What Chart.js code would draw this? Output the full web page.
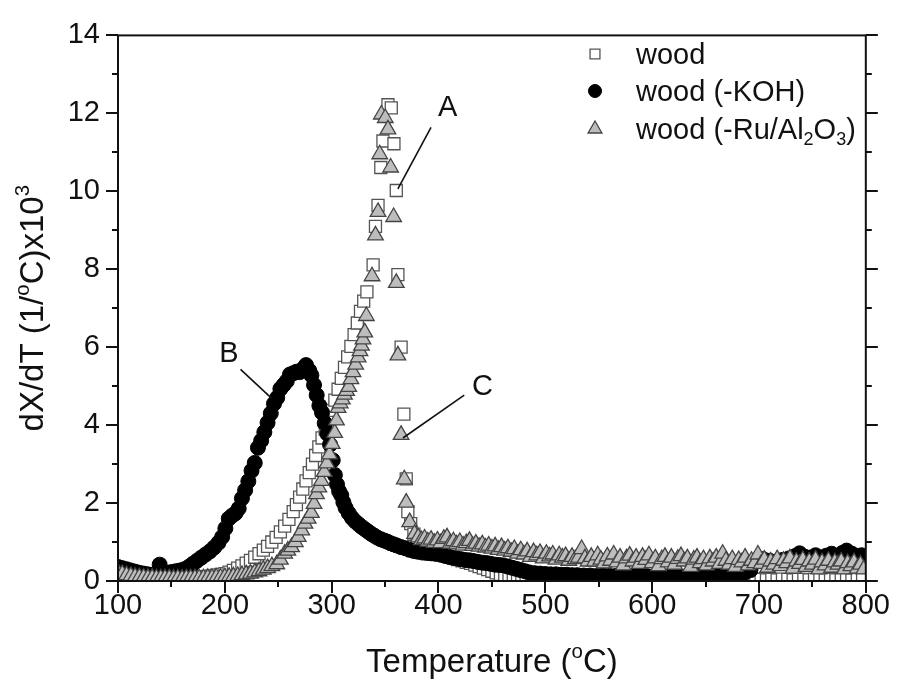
<!DOCTYPE html>
<html><head><meta charset="utf-8">
<script src="https://cdn.jsdelivr.net/npm/chart.js@4.4.1/dist/chart.umd.min.js"></script>
<style>html,body{margin:0;padding:0;background:#fff}canvas{display:block}</style>
</head><body>
<canvas id="c" width="898" height="687"></canvas>
<script>
// ---------- data ----------
const woodT = [100,104,108,112,116,120,124,128,132,136,140,144,148,152,156,160,164,168,172,176,180,184,188,192,196,
200,204,208,212,216,220,224,228,232,236,240,244,248,252,256,260,264,267,270,273,276,279,282,285,288,291,294,297,
300,303,306,309,312,315,318,321,324,327,330,333,338.8,341,343.4,346,348,352.7,355.8,358.3,360.5,362,365,367.6,369.8,
371.3,374,377,380,383,386,390,394,398,402,406,410,414,418,422,426,430,434,438,442,446,450,454,458,462,466,470,474,478,
482,487,492,497,502,507,512,517,522,527,532,537,542,547,552,557,562,567,572,577,582,587,592,597,602,607,612,617,622,627,
632,637,642,647,652,657,662,667,672,677,682,687,692,697,702,707,712,717,722,727,732,737,742,747,752,757,762,767,772,777,
782,787,792,797];
const woodV = [0.25,0.21,0.17,0.14,0.12,0.11,0.1,0.09,0.09,0.08,0.09,0.08,0.08,0.09,0.08,0.09,0.08,0.09,0.1,0.1,0.11,0.12,0.13,0.15,0.17,
0.19,0.23,0.27,0.33,0.39,0.46,0.53,0.61,0.7,0.79,0.89,1.0,1.12,1.26,1.41,1.58,1.78,1.96,2.15,2.36,2.57,2.78,3.0,3.22,3.44,3.67,3.9,4.14,
4.38,4.64,4.92,5.2,5.48,5.75,6.02,6.32,6.62,6.92,7.18,7.42,8.11,9.1,9.64,10.61,11.29,12.22,12.14,11.22,10.02,7.86,6.0,4.28,2.62,
1.78,1.47,1.2,0.95,0.86,0.81,0.77,0.73,0.7,0.67,0.64,0.61,0.58,0.55,0.52,0.48,0.45,0.41,0.37,0.33,0.29,0.25,0.21,0.17,0.14,0.11,0.09,0.07,0.06,
0.05,0.04,0.05,0.04,0.04,0.05,0.03,0.04,0.04,0.03,0.04,0.05,0.03,0.04,0.03,0.04,0.04,0.03,0.05,0.04,0.03,0.04,0.04,0.03,0.04,0.03,
0.05,0.04,0.03,0.04,0.04,0.03,0.04,0.05,0.03,0.04,0.03,0.04,0.04,0.03,0.05,0.04,0.03,0.04,0.04,0.03,0.04,0.03,0.05,0.04,0.03,0.04,
0.04,0.03,0.04,0.05,0.03,0.04,0.03,0.04,0.04,0.03,0.05,0.04];

const kohT = [100,104,108,112,116,120,124,128,132,136,139,142,146,150,154,158,162,166,170,174,178,182,186,190,194,197.5,200.5,203.7,
207,210,213,216,219,222,225,228,231,234,237,240,243,246,249,252,255,258,261,264,267,270,273,276,279,281,283.5,286,288.5,291,293.5,
296,298.5,301,303,305,307,309,311,313,316,319,322,325,328,331,334,337,340,343,346,349,352,355,358,361,365,369,373,377,381,385,389,
393,397,401,405,409,413,417,421,425,429,433,437,441,445,449,453,457,461,465,469,473,477,481,485,490,495,500,505,510,515,520,525,530,
536,542,548,554,560,566,572,578,584,590,596,602,608,614,620,626,632,638,644,650,656,662,668,674,680,686,692,698,704,710,716,722,728,
734,738,743,748,753,758,763,768,773,778,782,787,792,796,800];
const kohV = [0.36,0.33,0.3,0.27,0.24,0.21,0.19,0.17,0.16,0.15,0.42,0.17,0.2,0.23,0.25,0.27,0.3,0.36,0.44,0.52,0.6,0.68,0.76,0.86,0.98,1.13,1.35,1.6,
1.68,1.74,1.86,2.12,2.33,2.56,2.83,3.03,3.42,3.6,3.82,4.06,4.3,4.55,4.7,4.93,5.03,5.13,5.3,5.33,5.37,5.36,5.44,5.54,5.4,5.28,5.03,4.77,4.5,4.32,4.05,
3.78,3.5,3.1,2.72,2.48,2.3,2.2,2.02,1.88,1.74,1.62,1.53,1.46,1.39,1.33,1.27,1.21,1.16,1.11,1.07,1.04,1.01,0.97,0.94,0.91,0.87,0.84,0.8,0.77,0.75,0.73,0.72,
0.71,0.7,0.69,0.66,0.63,0.6,0.58,0.56,0.54,0.53,0.51,0.49,0.47,0.46,0.44,0.42,0.41,0.4,0.37,0.34,0.31,0.28,0.25,0.22,0.2,0.19,0.18,0.17,0.17,0.16,0.16,0.15,0.15,
0.14,0.14,0.13,0.14,0.13,0.13,0.12,0.13,0.12,0.12,0.12,0.11,0.12,0.11,0.12,0.11,0.12,0.11,0.13,0.12,0.14,0.13,0.15,0.14,0.17,0.2,0.28,0.5,0.56,0.52,0.5,0.54,0.58,
0.64,0.71,0.62,0.6,0.66,0.6,0.65,0.7,0.64,0.72,0.78,0.7,0.64,0.66,0.6];

const ruT = [100,104,108,112,116,120,124,128,132,136,140,144,148,152,156,160,164,168,172,176,180,184,188,192,196,200,204,208,212,216,220,
224,228,232,236,240,244,248.6,252,256,259,262.5,266,268.7,272,275,278,281,283.5,285.8,288,290.4,293,295.5,298,300.5,302.8,304.5,306,308,
310,312,314,316,318,320,322.5,324.8,326.5,327.9,329.3,331,332.5,337.8,341,343.4,345,346.5,350.2,352.7,355.2,358,360.5,362,365,368,369.8,
373,377.6,381,384,387,390,393,396,399,402,405,408,411,414,417,420,423,426,429,432,435,438,441,444,447,450,453,456,459,462,465,468,471,
474,477,480,483,486,489,492,495,498,501,504,507,510,513,516,519,522,525,528,531,534,537,540,
543,546,549,552,555,558,561,564,567,570,573,576,579,582,585,588,591,594,597,600,603,606,609,612,615,618,621,624,627,630,633,636,639,
642,645,648,651,654,657,660,663,666,669,672,675,678,681,684,687,690,693,696,699,702,705,708,711,714,717,720,723,726,729,732,735,738,
741,744,747,750,753,756,759,762,765,768,771,774,777,780,783,786,789,792,795,798];
const ruV = [0.22,0.18,0.15,0.13,0.11,0.1,0.09,0.08,0.08,0.07,0.07,0.07,0.07,0.06,0.07,0.06,0.07,0.07,0.07,0.07,0.07,0.08,0.08,0.09,0.09,0.1,0.11,0.12,0.13,0.15,0.17,
0.19,0.22,0.25,0.29,0.33,0.38,0.43,0.55,0.7,0.78,0.87,1.0,1.13,1.3,1.47,1.6,1.75,1.98,2.23,2.4,2.57,2.8,3.02,3.25,3.52,3.8,4.12,4.44,4.56,
4.66,4.78,4.88,4.98,5.18,5.36,5.55,5.74,5.9,6.04,6.2,6.38,6.8,7.82,8.87,9.47,10.95,11.97,11.88,11.59,10.61,9.34,7.65,5.79,3.75,2.61,2.01,
1.51,1.21,1.12,1.05,1.09,1.01,1.06,0.98,1.04,0.97,1.08,1.12,0.96,1.02,0.94,1.0,0.91,0.97,1.03,0.9,0.96,0.88,0.94,0.86,0.91,0.83,0.89,0.8,0.87,0.78,0.84,0.75,0.82,
0.7,0.79,0.68,0.76,0.62,0.74,0.66,0.72,0.58,0.7,0.63,0.68,0.55,0.66,0.6,0.64,0.52,0.62,0.56,0.6,0.82,0.58,0.5,
0.62,0.5,0.66,0.55,0.45,0.63,0.52,0.68,0.48,0.6,0.4,0.58,0.65,0.5,0.6,0.44,0.62,0.54,0.66,0.46,0.58,0.38,0.56,0.62,0.48,0.6,0.42,0.57,0.64,0.5,0.58,0.36,0.55,
0.6,0.46,0.56,0.4,0.58,0.5,0.6,0.44,0.7,0.52,0.42,0.56,0.36,0.54,0.48,0.6,0.4,0.52,0.46,0.68,0.44,0.55,0.34,0.5,0.42,0.56,0.38,0.52,0.46,0.58,0.32,0.5,0.44,
0.54,0.36,0.5,0.42,0.55,0.3,0.48,0.4,0.52,0.34,0.48,0.42,0.5,0.3,0.46,0.38,0.48,0.32,0.42,0.3];

const seriesNames = ['wood', 'wood (-KOH)', 'wood (-Ru/Al2O3)'];
const xTickValues = [100,200,300,400,500,600,700,800];
const yTickValues = [0,2,4,6,8,10,12,14];

// annotations (data units)
const annLabels = ['A','B','C'];
const annLabelT = [408.6, 203.8, 441.2];
const annLabelV = [12.14, 5.82, 4.98];
const annFromT = [393, 214.7, 424.1];
const annFromV = [11.64, 5.43, 4.77];
const annToT = [362, 244.1, 366.7];
const annToV = [10.06, 4.68, 3.67];

// ---------- drawing ----------
const FONT = '"Liberation Sans", Arial, Helvetica, sans-serif';
const pts = (T, V) => T.map((t, i) => ({x: t, y: V[i]}));

const styles = [
  {pointStyle: 'rect', pointRadius: 8.5, backgroundColor: '#ffffff', borderColor: '#555555', borderWidth: 1.3},
  {pointStyle: 'circle', pointRadius: 7.5, backgroundColor: '#000000', borderColor: '#000000', borderWidth: 1},
  {pointStyle: 'triangle', pointRadius: 9, backgroundColor: '#bdbdbd', borderColor: '#444444', borderWidth: 1.3}
];

function drawRich(ctx, parts, x, y, size, align) {
  let w = 0;
  const measured = parts.map(([t, m]) => {
    const fs = m === 0 ? size : size * 0.62;
    ctx.font = fs + 'px ' + FONT;
    const mw = ctx.measureText(t).width;
    w += mw;
    return [t, m, fs, mw];
  });
  let cx = align === 'center' ? x - w / 2 : x;
  ctx.textBaseline = 'alphabetic';
  ctx.textAlign = 'left';
  for (const [t, m, fs, mw] of measured) {
    ctx.font = fs + 'px ' + FONT;
    const dy = m === 1 ? -size * 0.42 : (m === -1 ? size * 0.22 : 0);
    ctx.fillText(t, cx, y + dy);
    cx += mw;
  }
}

const decor = {
  id: 'decor',
  afterDraw(chart) {
    const ctx = chart.ctx;
    const a = chart.chartArea;
    const xs = chart.scales.x, ys = chart.scales.y;
    ctx.save();
    ctx.strokeStyle = '#111';
    ctx.lineWidth = 2;
    ctx.strokeRect(a.left, a.top, a.right - a.left, a.bottom - a.top);
    ctx.beginPath();
    for (let v = 100; v <= 800; v += 50) {
      const px = Math.round(xs.getPixelForValue(v));
      const len = (v % 100 === 0) ? 12 : 6;
      ctx.moveTo(px, a.bottom); ctx.lineTo(px, a.bottom + len);
    }
    for (let v = 0; v <= 14; v += 1) {
      const py = Math.round(ys.getPixelForValue(v));
      const len = (v % 2 === 0) ? 12 : 6;
      ctx.moveTo(a.left, py); ctx.lineTo(a.left - len, py);
      ctx.moveTo(a.right, py); ctx.lineTo(a.right + len, py);
    }
    ctx.stroke();

    ctx.fillStyle = '#111';
    drawRich(ctx, [['Temperature (', 0], ['o', 1], ['C)', 0]], (a.left + a.right) / 2, 672, 33, 'center');
    ctx.save();
    ctx.translate(43, (a.top + a.bottom) / 2);
    ctx.rotate(-Math.PI / 2);
    drawRich(ctx, [['dX/dT (1/', 0], ['o', 1], ['C)x10', 0], ['3', 1]], 0, 0, 33, 'center');
    ctx.restore();

    ctx.lineWidth = 1.6;
    ctx.strokeStyle = '#111';
    for (let i = 0; i < annLabels.length; i++) {
      ctx.beginPath();
      ctx.moveTo(xs.getPixelForValue(annFromT[i]), ys.getPixelForValue(annFromV[i]));
      ctx.lineTo(xs.getPixelForValue(annToT[i]), ys.getPixelForValue(annToV[i]));
      ctx.stroke();
      ctx.font = '29px ' + FONT;
      ctx.textAlign = 'center';
      ctx.textBaseline = 'middle';
      ctx.fillText(annLabels[i], xs.getPixelForValue(annLabelT[i]), ys.getPixelForValue(annLabelV[i]));
    }

    const lx = 595, tx = 636;
    const baselines = [64, 101, 139];
    const legendStyles = [
      {pointStyle: 'rect', radius: 7, backgroundColor: '#fff', borderColor: '#555', borderWidth: 1.3},
      {pointStyle: 'circle', radius: 6.5, backgroundColor: '#000', borderColor: '#000', borderWidth: 1},
      {pointStyle: 'triangle', radius: 8, backgroundColor: '#bdbdbd', borderColor: '#444', borderWidth: 1.3}
    ];
    for (let i = 0; i < 3; i++) {
      const st = legendStyles[i];
      ctx.fillStyle = st.backgroundColor;
      ctx.strokeStyle = st.borderColor;
      ctx.lineWidth = st.borderWidth;
      Chart.helpers.drawPoint(ctx, {pointStyle: st.pointStyle, radius: st.radius, borderWidth: st.borderWidth, rotation: 0}, lx, baselines[i] - 10);
    }
    ctx.fillStyle = '#111';
    drawRich(ctx, [[seriesNames[0], 0]], tx, baselines[0], 29, 'left');
    drawRich(ctx, [[seriesNames[1], 0]], tx, baselines[1], 29, 'left');
    drawRich(ctx, [['wood (-Ru/Al', 0], ['2', -1], ['O', 0], ['3', -1], [')', 0]], tx, baselines[2], 29, 'left');
    ctx.restore();
  }
};

new Chart(document.getElementById('c'), {
  type: 'scatter',
  data: {
    datasets: [
      Object.assign({label: seriesNames[0], data: pts(woodT, woodV), order: 3, clip: 0}, styles[0]),
      Object.assign({label: seriesNames[1], data: pts(kohT, kohV), order: 2, clip: 0}, styles[1]),
      Object.assign({label: seriesNames[2], data: pts(ruT, ruV), order: 1, clip: 0}, styles[2])
    ]
  },
  options: {
    responsive: false,
    animation: false,
    devicePixelRatio: 1,
    layout: {padding: {top: 30, left: 0, right: 0, bottom: 0}},
    plugins: {legend: {display: false}, tooltip: {enabled: false}},
    scales: {
      x: {
        type: 'linear', position: 'bottom', min: 100, max: 800,
        afterBuildTicks: s => { s.ticks = xTickValues.map(v => ({value: v})); },
        ticks: {font: {family: FONT, size: 29}, color: '#111', padding: 8, maxRotation: 0},
        grid: {display: false, drawTicks: false},
        border: {display: false},
        afterFit: s => { s.height = 106; }
      },
      y: {
        type: 'linear', position: 'left', min: 0, max: 14,
        afterBuildTicks: s => { s.ticks = yTickValues.map(v => ({value: v})); },
        ticks: {font: {family: FONT, size: 29}, color: '#111', padding: 18},
        grid: {display: false, drawTicks: false},
        border: {display: false},
        afterFit: s => { s.width = 118; }
      },
      y2: {
        type: 'linear', position: 'right', min: 0, max: 14,
        ticks: {display: false},
        grid: {display: false, drawTicks: false},
        border: {display: false},
        afterFit: s => { s.width = 28; }
      }
    }
  },
  plugins: [decor]
});
</script>
</body></html>
